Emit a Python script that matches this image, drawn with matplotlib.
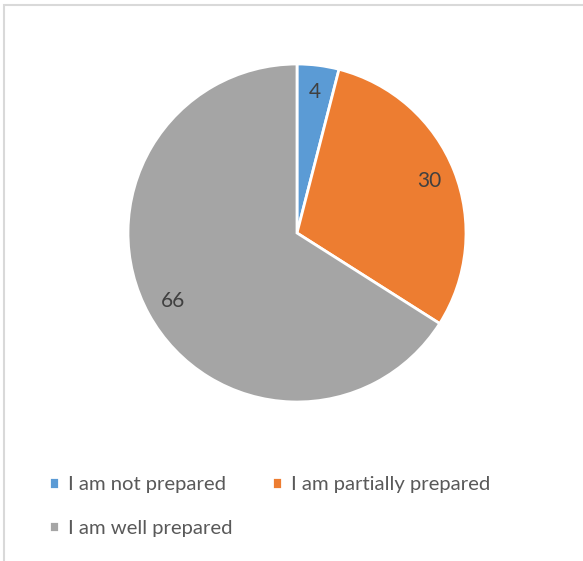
import numpy as np
import matplotlib.pyplot as plt
from matplotlib.patches import Rectangle

categories = ['I am not prepared', 'I am partially prepared', 'I am well prepared']
values = [4, 30, 66]
colors = ['#5B9BD5', '#ED7D31', '#A5A5A5']

plt.rcParams['font.family'] = ['Lato', 'DejaVu Sans']

W, H = 583, 561
fig = plt.figure(figsize=(W / 100, H / 100), dpi=100)

# light frame around the chart area
fig.patches.append(Rectangle((4 / W, -0.1), 1.2, 1 - 5 / H + 0.1, transform=fig.transFigure,
                             fill=False, edgecolor='#D9D9D9', linewidth=1.5))

# pie: centre at (297, 233) px, radius 169 px
r = 169
ax = fig.add_axes([(297 - r) / W, (H - 233 - r) / H, 2 * r / W, 2 * r / H])
wedges, _ = ax.pie(values, colors=colors, startangle=90, counterclock=False,
                   radius=1, wedgeprops=dict(edgecolor='white', linewidth=2))
ax.set_xlim(-1, 1)
ax.set_ylim(-1, 1)
ax.set_aspect('equal')
ax.axis('off')

# value labels inside each slice
for w, v in zip(wedges, values):
    ang = np.deg2rad((w.theta1 + w.theta2) / 2)
    ax.text(0.84 * np.cos(ang), 0.84 * np.sin(ang), str(v), ha='center', va='center',
            fontsize=15, color='#404040')

# legend laid out row-wise: not / partially on the first row, well below
order = [0, 2, 1]
fig.legend([wedges[i] for i in order], [categories[i] for i in order],
           loc='upper left', bbox_to_anchor=(31 / W, 1 - 458 / H), ncol=2,
           frameon=False, fontsize=14.6, labelcolor='#595959',
           handlelength=0.5, handleheight=0.5, handletextpad=0.42,
           columnspacing=1.95, labelspacing=1.3)

fig.savefig('out.png', dpi=100)
